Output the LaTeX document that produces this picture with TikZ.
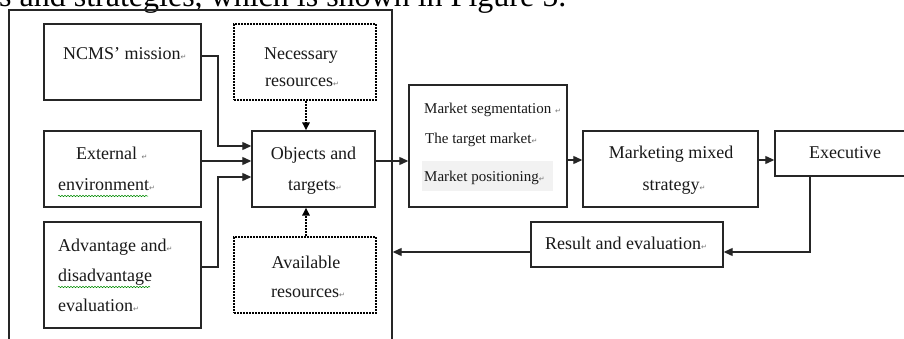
\documentclass[tikz,border=0pt]{standalone}
\usepackage{fontspec}
\setmainfont{Liberation Serif}
\newfontfamily\symfont{DejaVu Sans}
\usetikzlibrary{arrows.meta,decorations.pathmorphing}
\newcommand{\parmk}{{\symfont\fontsize{7pt}{7pt}\selectfont\textcolor{black!55}{↵}}}
\begin{document}
\begin{tikzpicture}[x=1pt,y=-1pt,
  box/.style={draw=black!85,line width=1.4pt,inner sep=0pt},
  dbox/.style={draw=black,line width=2.4pt,dash pattern=on 1.8pt off 1.2pt,inner sep=0pt},
  lbl/.style={inner sep=0pt,font=\fontsize{18pt}{20pt}\selectfont,text=black!90},
  slbl/.style={inner sep=0pt,font=\fontsize{15pt}{17pt}\selectfont,text=black!90},
  arr/.style={draw=black!85,line width=1.2pt,-{Triangle[length=9pt,width=8pt]}},
  darr/.style={draw=black,line width=1.6pt,dash pattern=on 1.5pt off 1.5pt,-{Triangle[length=8pt,width=7.5pt]}},
  wavy/.style={draw=green!55!black,line width=0.5pt,decorate,decoration={snake,amplitude=0.7pt,segment length=3pt}}]
\useasboundingbox (0,0) rectangle (904,339);
\clip (0,0) rectangle (904,339);
\fill[white] (0,0) rectangle (904,339);
% header line of the page (cut off)
\node[inner sep=0pt,anchor=base west,font=\fontsize{32pt}{34pt}\selectfont] (hdr) at (-1,6.5) {s and strategies, which is shown in Figure 5.};
% outer frame
\node[box,minimum width=383pt,minimum height=350pt] (outer) at (200.5,185) {};
% boxes
\node[box,minimum width=157pt,minimum height=76pt] (ncms) at (122.5,62) {};
\node[dbox,minimum width=142pt,minimum height=76pt] (nec) at (305,62) {};
\node[box,minimum width=157pt,minimum height=76pt] (ext) at (122.5,169) {};
\node[box,minimum width=123pt,minimum height=76pt] (obj) at (313.5,169) {};
\node[box,minimum width=157pt,minimum height=106pt] (adv) at (122.5,275) {};
\node[dbox,minimum width=142pt,minimum height=76pt] (avail) at (305,275) {};
\node[box,minimum width=158pt,minimum height=122pt] (mkt) at (488,146) {};
\node[box,minimum width=175pt,minimum height=76pt] (mix) at (670.5,169) {};
\node[box,minimum width=155pt,minimum height=45pt] (exe) at (852.5,153.5) {};
\node[box,minimum width=192pt,minimum height=45pt] (res) at (627,244.5) {};
% light shading behind "Market positioning"
\fill[black!5] (422,161) rectangle (553,191);
% labels
\node[lbl,anchor=base west] (tncms) at (63,60) {NCMS’ mission\parmk};
\node[lbl,anchor=base] (tnec1) at (301,60) {Necessary};
\node[lbl,anchor=base] (tnec2) at (302,87) {resources\parmk};
\node[lbl,anchor=base west] (text1) at (76,160) {External \parmk};
\node[lbl,anchor=base west] (text2) at (58,190) {environment\parmk};
\node[lbl,anchor=base west] (tadv1) at (58,251) {Advantage and\parmk};
\node[lbl,anchor=base west] (tadv2) at (58,281) {disadvantage};
\node[lbl,anchor=base west] (tadv3) at (58,311) {evaluation\parmk};
\node[lbl,anchor=base] (tobj1) at (313.5,160) {Objects and};
\node[lbl,anchor=base] (tobj2) at (315,190) {targets\parmk};
\node[lbl,anchor=base] (tav1) at (306,268) {Available};
\node[lbl,anchor=base] (tav2) at (308,297) {resources\parmk};
\node[slbl,anchor=base west] (tm1) at (424,114) {Market segmentation \parmk};
\node[slbl,anchor=base west] (tm2) at (425,144) {The target market\parmk};
\node[slbl,anchor=base west] (tm3) at (424,182) {Market positioning\parmk};
\node[lbl,anchor=base] (tmix1) at (671,159) {Marketing mixed};
\node[lbl,anchor=base] (tmix2) at (674,190) {strategy\parmk};
\node[lbl,anchor=base] (texe) at (845,159) {Executive};
\node[lbl,anchor=base] (tres) at (626,249) {Result and evaluation\parmk};
% spell-check underlines
\draw[wavy] (58,196) -- (148,196);
\draw[wavy] (58,287) -- (150,287);
% connection points
\coordinate (jx) at (218,0);
\coordinate (n1) at ([yshift=6pt]ncms.east);
\coordinate (a1) at ([yshift=8pt]adv.east);
\coordinate (o1) at ([yshift=23pt]obj.west);
\coordinate (o2) at ([yshift=8pt]obj.west);
\coordinate (o3) at ([yshift=-8pt]obj.west);
\coordinate (m1) at ([yshift=9pt]mix.west);
\coordinate (e1) at ([xshift=-42.5pt]exe.south);
\coordinate (r1) at ([yshift=-7.5pt]res.east);
% connectors
\draw[arr] (n1) -| (jx |- o1) -- (o1);
\draw[arr] (ext.east |- o2) -- (o2);
\draw[arr] (a1) -| (jx |- o3) -- (o3);
\draw[darr] ([xshift=1pt]nec.south) -- ([xshift=1pt]nec.south |- obj.north);
\draw[darr] ([xshift=1pt]avail.north) -- ([xshift=1pt]avail.north |- obj.south);
\draw[arr] (o2 -| obj.east) -- (o2 -| mkt.west);
\draw[arr] (m1 -| mkt.east) -- (m1);
\draw[arr] (m1 -| mix.east) -- (m1 -| exe.west);
\draw[arr] (e1) |- (r1);
\draw[arr] (r1 -| res.west) -- (r1 -| outer.east);
\end{tikzpicture}
\end{document}
